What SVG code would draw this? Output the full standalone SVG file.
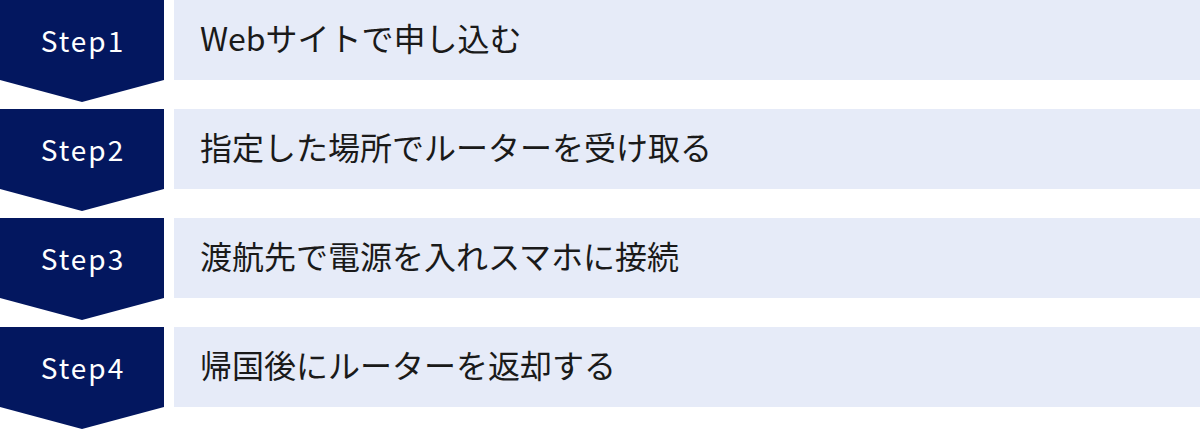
<svg xmlns="http://www.w3.org/2000/svg" width="1200" height="429" viewBox="0 0 1200 429">
<defs>
<style>
.badge{fill:#03175F}
.bar{fill:#E6EBF8}
.step{font-family:"Noto Sans CJK JP","Noto Sans",sans-serif;font-size:28px;fill:#FFFFFF;text-anchor:middle;letter-spacing:2px}
.label{font-family:"Noto Sans CJK JP","Noto Sans",sans-serif;font-size:32px;fill:#1A1A1A}
</style>
</defs>
<rect width="1200" height="429" fill="#FFFFFF"/>
<g id="step1">
<path class="badge" d="M0 0H164V80L82 102L0 80Z"/>
<rect class="bar" x="174" y="0" width="1026" height="80"/>
<text class="step" x="83" y="52">Step1</text>
<text class="label" x="200" y="51">Webサイトで申し込む</text>
</g>
<g id="step2">
<path class="badge" d="M0 109H164V189L82 211L0 189Z"/>
<rect class="bar" x="174" y="109" width="1026" height="80"/>
<text class="step" x="83" y="161">Step2</text>
<text class="label" x="200" y="160">指定した場所でルーターを受け取る</text>
</g>
<g id="step3">
<path class="badge" d="M0 218H164V298L82 320L0 298Z"/>
<rect class="bar" x="174" y="218" width="1026" height="80"/>
<text class="step" x="83" y="270">Step3</text>
<text class="label" x="200" y="269">渡航先で電源を入れスマホに接続</text>
</g>
<g id="step4">
<path class="badge" d="M0 327H164V407L82 429L0 407Z"/>
<rect class="bar" x="174" y="327" width="1026" height="80"/>
<text class="step" x="83" y="379">Step4</text>
<text class="label" x="200" y="378">帰国後にルーターを返却する</text>
</g>
<g id="connectors"></g>
</svg>
